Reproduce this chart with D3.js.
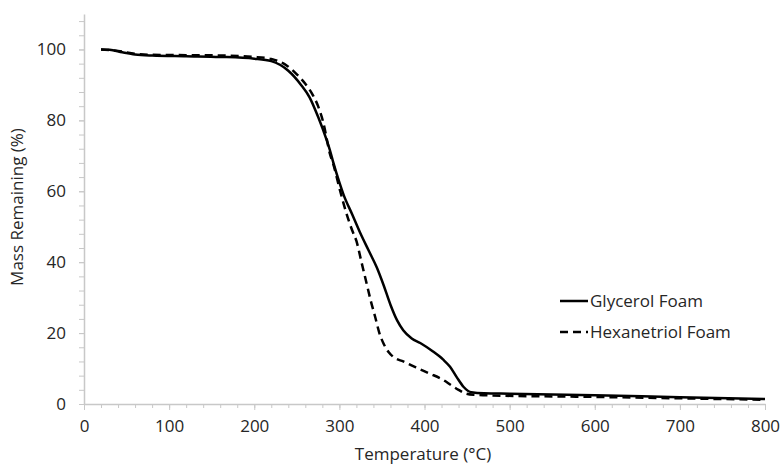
<!DOCTYPE html>
<html><head><meta charset="utf-8">
<script src="https://cdn.jsdelivr.net/npm/d3@7"></script>
<style>
html,body{margin:0;padding:0;background:#fff;}
svg text{font-family:"Open Sans",sans-serif;fill:#262626;}
</style></head>
<body><svg id="c" width="781" height="465"></svg>
<script>
const seriesNames = ["Glycerol Foam", "Hexanetriol Foam"];
const glycerolT = [20,30,45,60,80,120,160,200,220,240,255,265,275,285,289,293,300,305,315,324,335,344,352,360,368,375,385,395,410,422,430,438,446,455,470,500,600,700,800];
const glycerolM = [100,99.9,99.2,98.6,98.3,98.1,97.9,97.4,96.7,94,90,86.5,81,74.5,71.5,68,62.5,59,53.5,48.5,43,38.5,33.5,28,23.5,20.8,18.5,17.2,14.8,12.5,10.5,7.5,4.8,3.3,3.0,2.9,2.5,1.9,1.4];
const hexT = [20,40,60,80,120,160,200,220,238,250,260,268,275,281,289,293,301,308,315,320,326,332,337,342,347,352,358,365,375,390,406,422,432,440,448,458,480,600,700,800];
const hexM = [100,99.6,98.8,98.5,98.4,98.3,97.9,97.3,95.5,93,90.3,87.5,84,79.5,70.5,67.5,60,54,49,46,40,34,29,24.6,20,17,14.6,13,12,10.3,8.6,6.8,5.2,4,3,2.6,2.4,2.0,1.6,1.2];
const xTicks = [0,100,200,300,400,500,600,700,800];
const yTicks = [0,20,40,60,80,100];
const xLabel = "Temperature (°C)";
const yLabel = "Mass Remaining (%)";

const svg = d3.select("#c");
const x = d3.scaleLinear().domain([0,800]).range([84,765]);
const y = d3.scaleLinear().domain([0,110]).range([404,14]);
const axisColor = "#c8c8c8";
const fs = 17;

const xMinor = d3.range(0,801,20);
const yMinor = d3.range(0,109,4);
svg.append("g").attr("transform","translate(0,404)")
  .call(d3.axisBottom(x).tickValues(xMinor).tickSize(4).tickFormat(""))
  .call(g=>{g.select(".domain").remove(); g.selectAll("line").attr("stroke",axisColor);});
svg.append("g").attr("transform","translate(84,0)")
  .call(d3.axisLeft(y).tickValues(yMinor).tickSize(5).tickFormat(""))
  .call(g=>{g.select(".domain").remove(); g.selectAll("line").attr("stroke",axisColor);});

const xa = svg.append("g").attr("transform","translate(0,404)")
  .call(d3.axisBottom(x).tickValues(xTicks).tickSize(6).tickSizeOuter(0).tickPadding(10));
xa.select(".domain").attr("stroke",axisColor).attr("stroke-width",1.5);
xa.selectAll("line").attr("stroke",axisColor);
xa.selectAll("text").attr("font-size",fs).attr("fill","#262626");

const ya = svg.append("g").attr("transform","translate(84,0)")
  .call(d3.axisLeft(y).tickValues(yTicks).tickSize(5).tickSizeOuter(0).tickPadding(13));
ya.select(".domain").attr("stroke",axisColor).attr("stroke-width",1.5);
ya.selectAll("line").attr("stroke",axisColor);
ya.selectAll("text").attr("font-size",fs).attr("fill","#262626");

svg.append("text").attr("x",423).attr("y",460).attr("text-anchor","middle")
  .attr("font-size",fs).text(xLabel);
svg.append("text").attr("transform","translate(23,207) rotate(-90)")
  .attr("text-anchor","middle").attr("font-size",fs).text(yLabel);

const line = d3.line().x(d=>x(d[0])).y(d=>y(d[1])).curve(d3.curveMonotoneX);
const gData = glycerolT.map((t,i)=>[t,glycerolM[i]]);
const hData = hexT.map((t,i)=>[t,hexM[i]]);

svg.append("path").datum(hData).attr("d",line).attr("fill","none")
  .attr("stroke","#000").attr("stroke-width",2.5).attr("stroke-dasharray","8,5");
svg.append("path").datum(gData).attr("d",line).attr("fill","none")
  .attr("stroke","#000").attr("stroke-width",2.5);

const leg = svg.append("g");
const legY = [301, 332];
const dashes = [null, "8,5"];
seriesNames.forEach((name,i)=>{
  leg.append("line").attr("x1",560).attr("x2",588).attr("y1",legY[i]).attr("y2",legY[i])
    .attr("stroke","#000").attr("stroke-width",2.5).attr("stroke-dasharray",dashes[i]);
  leg.append("text").attr("x",590).attr("y",legY[i]).attr("dy","0.35em")
    .attr("font-size",fs).text(name);
});
</script></body></html>
